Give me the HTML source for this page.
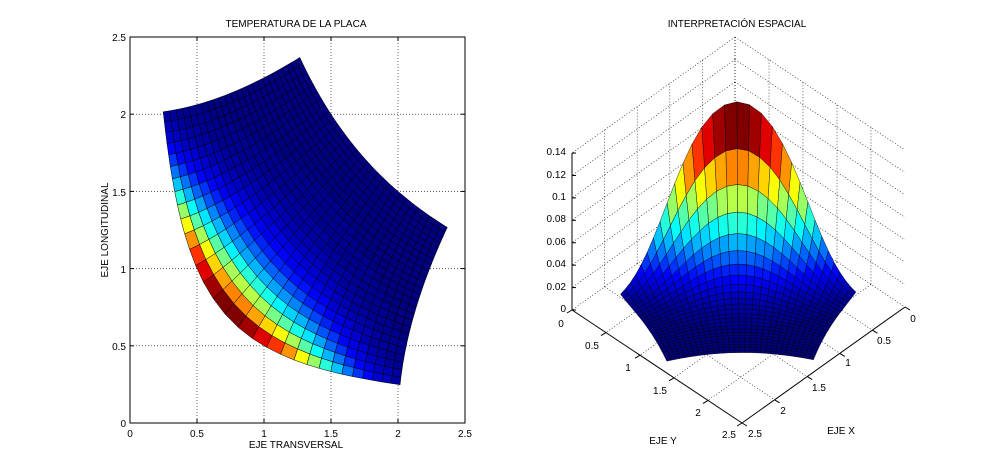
<!DOCTYPE html>
<html><head><meta charset="utf-8"><style>
html,body{margin:0;padding:0;background:#fff;}
svg{display:block;font-family:"Liberation Sans",Arial,sans-serif;}
</style></head><body>
<svg id="s" width="1000" height="476" viewBox="0 0 1000 476" xmlns="http://www.w3.org/2000/svg">
<rect width="1000" height="476" fill="#fff"/>
<g id="lg" stroke="#000" stroke-width="0.6" stroke-dasharray="1,2" fill="none"></g>
<g id="left"></g>
<g id="rg" stroke="#000" stroke-width="0.6" stroke-dasharray="1,2" fill="none"></g>
<g id="right"></g>
<g id="axes" stroke="#000" stroke-width="1" fill="none"></g>
<g font-size="10" fill="#000">
<text x="296" y="27" text-anchor="middle">TEMPERATURA DE LA PLACA</text>
<text x="296" y="448" text-anchor="middle">EJE TRANSVERSAL</text>
<text transform="translate(108,230) rotate(-90)" text-anchor="middle">EJE LONGITUDINAL</text>
<text x="130" y="437" text-anchor="middle">0</text>
<text x="197" y="437" text-anchor="middle">0.5</text>
<text x="264" y="437" text-anchor="middle">1</text>
<text x="331" y="437" text-anchor="middle">1.5</text>
<text x="398" y="437" text-anchor="middle">2</text>
<text x="465" y="437" text-anchor="middle">2.5</text>
<text x="126" y="427" text-anchor="end">0</text>
<text x="126" y="350" text-anchor="end">0.5</text>
<text x="126" y="273" text-anchor="end">1</text>
<text x="126" y="196" text-anchor="end">1.5</text>
<text x="126" y="118" text-anchor="end">2</text>
<text x="126" y="41" text-anchor="end">2.5</text>
<text x="737" y="27" text-anchor="middle">INTERPRETACIÓN ESPACIAL</text>
<text x="566" y="155" text-anchor="end">0.14</text>
<text x="566" y="178" text-anchor="end">0.12</text>
<text x="566" y="200" text-anchor="end">0.1</text>
<text x="566" y="222" text-anchor="end">0.08</text>
<text x="566" y="245" text-anchor="end">0.06</text>
<text x="566" y="267" text-anchor="end">0.04</text>
<text x="566" y="290" text-anchor="end">0.02</text>
<text x="566" y="312" text-anchor="end">0</text>
<text x="561" y="327" text-anchor="middle">0</text>
<text x="592" y="349" text-anchor="middle">0.5</text>
<text x="628" y="371" text-anchor="middle">1</text>
<text x="660" y="394" text-anchor="middle">1.5</text>
<text x="698" y="416" text-anchor="middle">2</text>
<text x="729" y="438" text-anchor="middle">2.5</text>
<text x="913" y="322" text-anchor="middle">0</text>
<text x="884" y="344" text-anchor="middle">0.5</text>
<text x="848" y="366" text-anchor="middle">1</text>
<text x="819" y="391" text-anchor="middle">1.5</text>
<text x="783" y="414" text-anchor="middle">2</text>
<text x="755" y="437" text-anchor="middle">2.5</text>
<text x="841" y="434" text-anchor="middle">EJE X</text>
<text x="663" y="444" text-anchor="middle">EJE Y</text>
</g>
</svg>
<script>
var NS="http://www.w3.org/2000/svg";
function el(p,t,a){var e=document.createElementNS(NS,t);for(var k in a)e.setAttribute(k,a[k]);p.appendChild(e);return e;}
function cl(x){return Math.max(0,Math.min(1,x));}
function jet(t){t=Math.round(cl(t)*63)/63;var r=cl(1.5-Math.abs(4*t-3)),g=cl(1.5-Math.abs(4*t-2)),b=cl(1.5-Math.abs(4*t-1));return "rgb("+Math.round(r*255)+","+Math.round(g*255)+","+Math.round(b*255)+")";}
function xy(u,v){var x=Math.sqrt((v+Math.sqrt(v*v+4*u*u))/2);return [x,u/x];}
function T(u,v){return 0.14*Math.exp(-(u-0.5)*3.0)*Math.exp(-v*v/4.5);}
var NU=25,NV=30,P=[];
for(var i=0;i<=NU;i++){P[i]=[];for(var j=0;j<=NV;j++){var u=0.5+2.5*i/NU,v=-4+8*j/NV;var q=xy(u,v);P[i][j]=[q[0],q[1],T(u,v)];}}
var L=document.getElementById('left'),R=document.getElementById('right'),LG=document.getElementById('lg'),RG=document.getElementById('rg'),AX=document.getElementById('axes');
function lx(x){return 130+x*134;}function ly(y){return 423-y*154.4;}
for(var k=1;k<5;k++){var c=k*0.5;el(LG,'line',{x1:lx(c),y1:37,x2:lx(c),y2:423});el(LG,'line',{x1:130,y1:ly(c),x2:465,y2:ly(c)});}
el(AX,'rect',{x:130,y:37,width:335,height:386});
for(var k=0;k<=5;k++){var c=k*0.5;el(AX,'line',{x1:lx(c),y1:423,x2:lx(c),y2:419});el(AX,'line',{x1:lx(c),y1:37,x2:lx(c),y2:41});el(AX,'line',{x1:130,y1:ly(c),x2:134,y2:ly(c)});el(AX,'line',{x1:465,y1:ly(c),x2:461,y2:ly(c)});}
var F=[],zmax=0;
for(var i=0;i<NU;i++)for(var j=0;j<NV;j++){var a=[P[i][j],P[i+1][j],P[i+1][j+1],P[i][j+1]];var z=0,d=0;a.forEach(function(p){z+=p[2]/4;d+=(p[0]+p[1])/4;});if(z>zmax)zmax=z;F.push({a:a,z:z,d:d});}
F.forEach(function(f){el(L,'polygon',{points:f.a.map(function(p){return lx(p[0]).toFixed(1)+","+ly(p[1]).toFixed(1)}).join(" "),fill:jet(f.z/zmax),stroke:"#000","stroke-width":0.5});});
function pr(x,y,z){return [735-65.2*x+68*y,194+46.4*x+45.2*y-1121*z];}
function ln(g,a,b){el(g,'line',{x1:a[0],y1:a[1],x2:b[0],y2:b[1]});}
for(var k=1;k<=7;k++){var z=k*0.02;ln(RG,pr(0,0,z),pr(0,2.5,z));ln(RG,pr(0,0,z),pr(2.5,0,z));}
for(var k=0;k<5;k++){var c=k*0.5;ln(RG,pr(0,c,0),pr(0,c,0.14));ln(RG,pr(c,0,0),pr(c,0,0.14));ln(RG,pr(c,0,0),pr(c,2.5,0));ln(RG,pr(0,c,0),pr(2.5,c,0));}
ln(AX,pr(2.5,0,0),pr(2.5,0,0.14));ln(AX,pr(2.5,0,0),pr(2.5,2.5,0));ln(AX,pr(0,2.5,0),pr(2.5,2.5,0));
for(var k=0;k<=5;k++){var c=k*0.5;var a=pr(2.5,c,0);el(AX,'line',{x1:a[0],y1:a[1],x2:a[0]-5,y2:a[1]+3});a=pr(c,2.5,0);el(AX,'line',{x1:a[0],y1:a[1],x2:a[0]+5,y2:a[1]+3});}
for(var k=0;k<=7;k++){var a=pr(2.5,0,k*0.02);el(AX,'line',{x1:a[0],y1:a[1],x2:a[0]+4,y2:a[1]});}
F.slice().sort(function(p,q){return p.d-q.d;}).forEach(function(f){el(R,'polygon',{points:f.a.map(function(p){var q=pr(p[0],p[1],p[2]);return q[0].toFixed(1)+","+q[1].toFixed(1)}).join(" "),fill:jet(f.z/zmax),stroke:"#000","stroke-width":0.4,"stroke-linejoin":"round"});});
</script>
</body></html>
